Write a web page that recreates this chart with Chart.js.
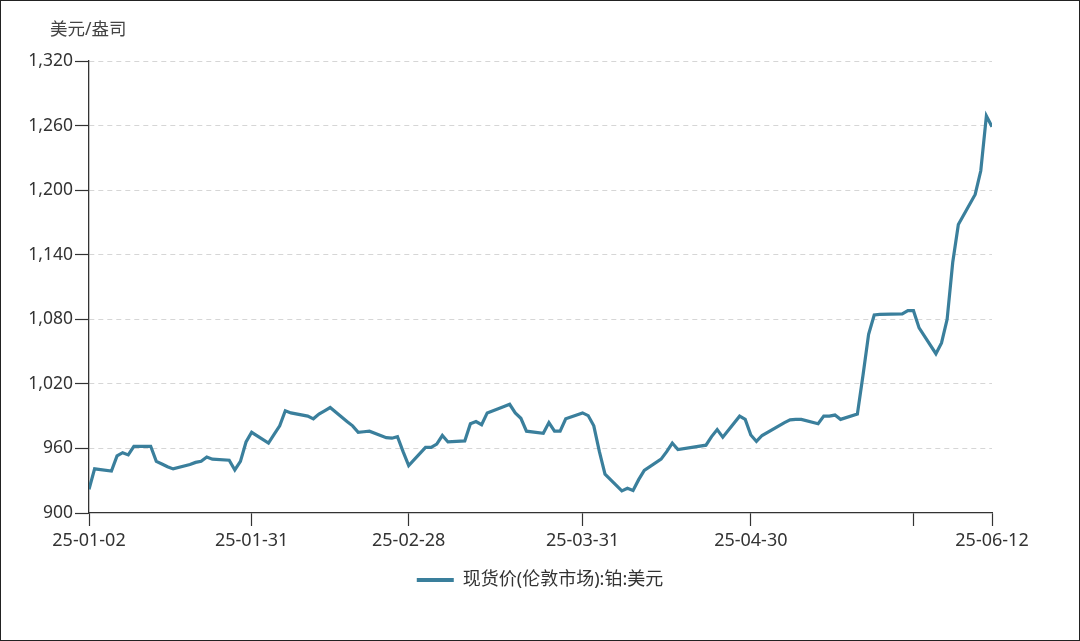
<!DOCTYPE html>
<html>
<head>
<meta charset="utf-8">
<script src="https://cdn.jsdelivr.net/npm/chart.js@4.4.1/dist/chart.umd.min.js"></script>
<style>
  html, body { margin: 0; padding: 0; background: #fff; }
  #wrap { width: 1080px; height: 641px; box-sizing: border-box; border: 1px solid #222; position: relative; }
  canvas { position: absolute; left: -1px; top: -1px; }
</style>
</head>
<body>
<div id="wrap"><canvas id="plat" width="1080" height="641"></canvas></div>
<script>
// London platinum spot, USD/oz
const dates = [
  '2025-01-02','2025-01-03','2025-01-06','2025-01-07','2025-01-08','2025-01-09','2025-01-10',
  '2025-01-13','2025-01-14','2025-01-15','2025-01-16','2025-01-17',
  '2025-01-20','2025-01-21','2025-01-22','2025-01-23','2025-01-24',
  '2025-01-27','2025-01-28','2025-01-29','2025-01-30','2025-01-31',
  '2025-02-03','2025-02-04','2025-02-05','2025-02-06','2025-02-07',
  '2025-02-10','2025-02-11','2025-02-12','2025-02-13','2025-02-14',
  '2025-02-17','2025-02-18','2025-02-19','2025-02-20','2025-02-21',
  '2025-02-24','2025-02-25','2025-02-26','2025-02-27','2025-02-28',
  '2025-03-03','2025-03-04','2025-03-05','2025-03-06','2025-03-07',
  '2025-03-10','2025-03-11','2025-03-12','2025-03-13','2025-03-14',
  '2025-03-17','2025-03-18','2025-03-19','2025-03-20','2025-03-21',
  '2025-03-24','2025-03-25','2025-03-26','2025-03-27','2025-03-28',
  '2025-03-31','2025-04-01','2025-04-02','2025-04-03','2025-04-04',
  '2025-04-07','2025-04-08','2025-04-09','2025-04-10','2025-04-11',
  '2025-04-14','2025-04-15','2025-04-16','2025-04-17',
  '2025-04-22','2025-04-23','2025-04-24','2025-04-25',
  '2025-04-28','2025-04-29','2025-04-30','2025-05-01','2025-05-02',
  '2025-05-06','2025-05-07','2025-05-08','2025-05-09',
  '2025-05-12','2025-05-13','2025-05-14','2025-05-15','2025-05-16',
  '2025-05-19','2025-05-20','2025-05-21','2025-05-22','2025-05-23',
  '2025-05-27','2025-05-28','2025-05-29','2025-05-30',
  '2025-06-02','2025-06-03','2025-06-04','2025-06-05','2025-06-06',
  '2025-06-09','2025-06-10','2025-06-11','2025-06-12'
];
const prices = [
  922, 941, 939, 953, 956, 954, 962,
  962, 948, 945.5, 943, 941,
  945, 947, 948, 952, 950,
  949, 940, 948, 966, 975,
  965, 973, 981, 995, 993,
  990, 987.5, 992, 995, 998,
  985, 981, 975, 975.5, 976,
  970, 969.5, 971, 957, 944,
  961, 961, 964, 972, 966,
  967, 983, 985, 982, 993,
  999, 1001, 993, 988, 976,
  974, 984, 976, 976, 987.5,
  993, 990.5, 981, 957, 936,
  920.5, 923, 921, 931, 939.5,
  950, 957, 965, 959,
  963, 971, 977.5, 970.5,
  990, 987, 972.5, 966.5, 972,
  984, 986.5, 987, 987,
  983, 990, 990, 991, 987,
  992, 1028, 1066, 1084, 1084.5,
  1085, 1088, 1088, 1072,
  1048, 1058, 1080, 1133, 1168,
  1196, 1218, 1269, 1259
];
const tickDates  = ['2025-01-02','2025-01-31','2025-02-28','2025-03-31','2025-04-30','2025-05-29','2025-06-12'];
const tickLabels = ['25-01-02','25-01-31','25-02-28','25-03-31','25-04-30','','25-06-12'];
const yTicks = [900, 960, 1020, 1080, 1140, 1200, 1260, 1320];
const seriesName = '现货价(伦敦市场):铂:美元';
const unitLabel = '美元/盎司';

// days since first date -> linear x
const t0 = Date.parse(dates[0]);
const dayOf = d => (Date.parse(d) - t0) / 86400000;
const points = dates.map((d, i) => ({ x: dayOf(d), y: prices[i] }));
const tickDays = tickDates.map(dayOf);

const FONT = '"Noto Sans", "Noto Sans CJK SC", sans-serif';
const LINE = '#3a7f9c';

const unitTitle = {
  id: 'unitTitle',
  // legend centred on the whole canvas, not just between the paddings
  afterLayout(chart) {
    const lg = chart.legend;
    if (lg) { lg.left = 0; lg.right = chart.width; lg.width = chart.width; }
  },
  afterDraw(chart) {
    const { ctx, chartArea } = chart;
    ctx.save();
    ctx.font = '17.5px ' + FONT;
    ctx.fillStyle = '#444';
    ctx.textAlign = 'left';
    ctx.textBaseline = 'middle';
    ctx.fillText(unitLabel, chartArea.left - 39, chartArea.top - 31);
    ctx.restore();
  }
};

new Chart(document.getElementById('plat'), {
  type: 'line',
  data: {
    datasets: [{
      label: seriesName,
      data: points,
      borderColor: LINE,
      backgroundColor: LINE,
      borderWidth: 3.2,
      pointRadius: 0,
      tension: 0,
      fill: false
    }]
  },
  options: {
    responsive: false,
    animation: false,
    devicePixelRatio: 1,
    locale: 'en-US',
    layout: { padding: { left: 29, right: 88, top: 61, bottom: 42 } },
    plugins: {
      tooltip: { enabled: false },
      legend: {
        position: 'bottom',
        labels: {
          font: { family: FONT, size: 18 },
          color: '#333',
          boxWidth: 37,
          boxHeight: 4,
          padding: 10,
          generateLabels(chart) {
            const items = Chart.defaults.plugins.legend.labels.generateLabels(chart);
            items.forEach(it => { it.lineWidth = 0; it.fillStyle = LINE; });
            return items;
          }
        }
      }
    },
    scales: {
      x: {
        type: 'linear',
        min: tickDays[0],
        max: tickDays[tickDays.length - 1],
        afterBuildTicks(axis) { axis.ticks = tickDays.map(v => ({ value: v })); },
        afterFit(axis) { axis.height = 48; },
        ticks: {
          autoSkip: false,
          maxRotation: 0,
          padding: 4,
          font: { family: FONT, size: 18 },
          color: '#333',
          callback(v) { const i = tickDays.indexOf(v); return i >= 0 ? tickLabels[i] : ''; }
        },
        grid: { drawOnChartArea: false, drawTicks: true, tickLength: 13, tickColor: '#333', tickWidth: 1.2 },
        border: { display: true, color: '#333', width: 1.3 }
      },
      y: {
        min: yTicks[0],
        max: yTicks[yTicks.length - 1],
        afterBuildTicks(axis) { axis.ticks = yTicks.map(v => ({ value: v })); },
        afterFit(axis) { axis.width = 60; },
        ticks: {
          padding: 2,
          font: { family: FONT, size: 17.5 },
          color: '#333'
        },
        grid: {
          color: ctx => ctx.tick && ctx.tick.value === yTicks[0] ? 'rgba(0,0,0,0)' : '#d6d6d6',
          lineWidth: 1,
          tickLength: 14,
          tickColor: '#333',
          tickWidth: 1.2,
          tickBorderDash: []
        },
        border: { display: true, color: '#333', width: 1.3, dash: [5, 4] }
      }
    }
  },
  plugins: [unitTitle]
});
</script>
</body>
</html>
